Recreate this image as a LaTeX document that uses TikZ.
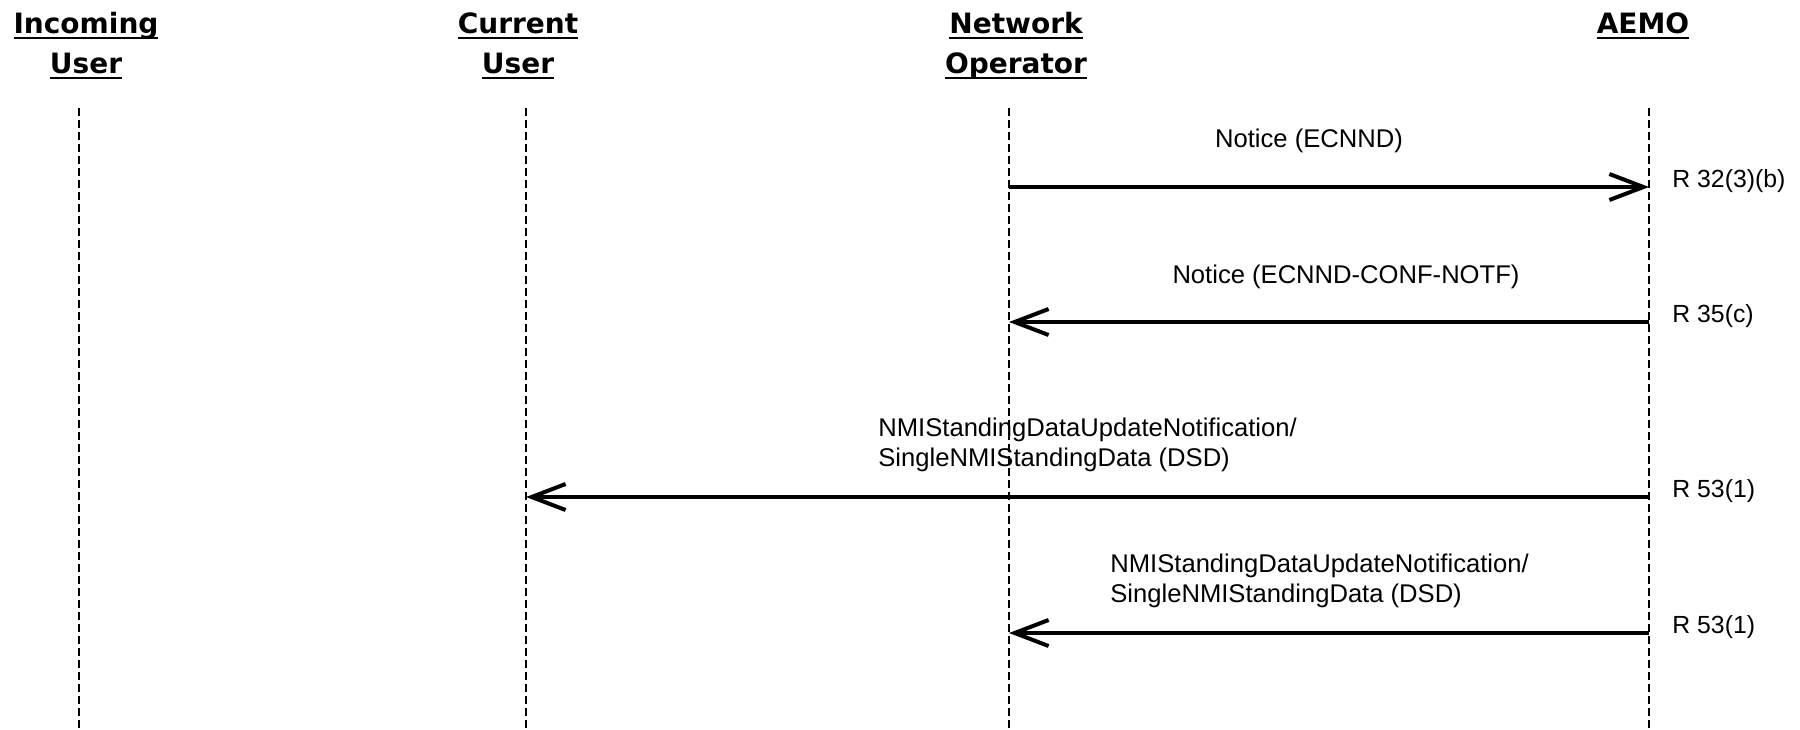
\documentclass[tikz,border=0pt]{standalone}
\usepackage{fontspec}
\setmainfont{Liberation Sans}
\newfontfamily\hdrfont{DejaVu Sans}
\usetikzlibrary{arrows.meta,positioning}
\newcommand{\hdrul}[1]{\setbox0\hbox{#1}\rlap{\rule[-2.9pt]{\wd0}{1.1pt}}\box0}

\tikzset{
  actor/.style={align=center,inner sep=0pt,anchor=north,
    font=\hdrfont\bfseries\fontsize{14pt}{20pt}\selectfont},
  lifeline/.style={line width=0.75pt,dash pattern=on 4pt off 2pt},
  msg/.style={->,line width=2pt},
  msglabel/.style={inner sep=0pt,align=left,font=\fontsize{12.8pt}{15pt}\selectfont},
  rule/.style={inner sep=0pt,anchor=base west,font=\fontsize{12.4pt}{15pt}\selectfont}
}

\begin{document}
\begin{tikzpicture}[x=0.5pt,y=-0.5pt,>={Straight Barb[length=17pt,width=13pt]}]
  \useasboundingbox (0,0) rectangle (1800,729);
  \node[actor] (incoming) at (86,12) {\hdrul{Incoming}\\\hdrul{User}};
  \node[actor] (current) at (518,12) {\hdrul{Current}\\\hdrul{User}};
  \node[actor] (netop) at (1016,12) {\hdrul{Network}\\\hdrul{Operator}};
  \node[actor] (aemo) at (1643,12) {\hdrul{AEMO}};

  \coordinate (iu) at (79,108);
  \coordinate (cu) at (526,108);
  \coordinate (no) at (1009,108);
  \coordinate (ae) at (1649,108);
  \coordinate (bottom) at (0,729);
  \foreach \p in {iu,cu,no,ae}
    \draw[lifeline] (\p) -- (\p |- bottom);

  \coordinate (m1) at (0,187);
  \coordinate (m2) at (0,322);
  \coordinate (m3) at (0,497);
  \coordinate (m4) at (0,633);

  \draw[msg] (no |- m1) -- (ae |- m1);
  \node[msglabel,anchor=base] (ecnnd) at (1309,147) {Notice (ECNND)};
  \node[rule] (r1) at (1672,187) {R 32(3)(b)};

  \draw[msg] (ae |- m2) -- (no |- m2);
  \node[msglabel,anchor=base] (conf) at (1346,283) {Notice (ECNND-CONF-NOTF)};
  \node[rule] (r2) at (1672,322) {R 35(c)};

  \draw[msg] (ae |- m3) -- (cu |- m3);
  \node[msglabel,anchor=north west] (dsd1) at (878,418)
    {NMIStandingDataUpdateNotification/\\SingleNMIStandingData (DSD)};
  \node[rule] (r3) at (1672,497) {R 53(1)};

  \draw[msg] (ae |- m4) -- (no |- m4);
  \node[msglabel,anchor=north west] (dsd2) at (1110,554)
    {NMIStandingDataUpdateNotification/\\SingleNMIStandingData (DSD)};
  \node[rule] (r4) at (1672,633) {R 53(1)};
\end{tikzpicture}
\end{document}
